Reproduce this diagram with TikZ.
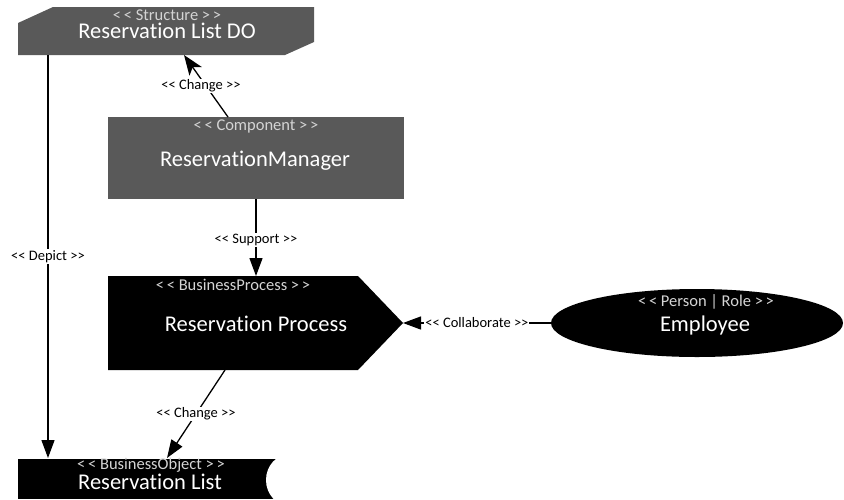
\documentclass[tikz,border=0pt]{standalone}
\usepackage{fontspec}
\setmainfont{Carlito}[Ligatures={NoCommon}]
\usetikzlibrary{arrows.meta,shapes.geometric,calc}
\definecolor{elemgray}{HTML}{595959}
\definecolor{stereo}{HTML}{D4D4D4}

\begin{document}
\begin{tikzpicture}[x=1pt,y=-1pt,
  conn/.style={line width=1.3pt},
  tri/.style={-{Triangle[length=18pt,width=13pt]}},
  lbl/.style={fill=white,inner sep=1pt,font=\fontsize{14.5}{16}\selectfont},
  stereotxt/.style={text=stereo,anchor=base,inner sep=0,font=\fontsize{16.5}{18}\selectfont},
  nametxt/.style={text=white,anchor=base,inner sep=0,font=\fontsize{22.5}{24}\selectfont}]
\useasboundingbox (0,0) rectangle (844,499);

% Structure element (cut corners)
\fill[elemgray] (18,23) -- (53,7) -- (314,7) -- (314,42) -- (285,55) -- (18,55) -- cycle;
\node[stereotxt] (structS) at (167,20.5) {<\,<{} Structure >\,>};
\node[nametxt] (structN) at (167,38) {Reservation List DO};
\coordinate (structChg) at (184,55);
\coordinate (structDep) at (48,55);

% Component
\node[fill=elemgray,minimum width=296pt,minimum height=82pt,inner sep=0,anchor=north west] (mgr) at (108,117) {};
\node[stereotxt] (mgrS) at (256,130.5) {<\,<{} Component >\,>};
\node[nametxt] (mgrN) at (255,166) {ReservationManager};
\coordinate (mgrChg) at (228,117);
\coordinate (mgrSup) at (256,199);

% Business process (arrow pentagon)
\fill[black] (108,276) -- (358,276) -- (403,323) -- (358,370) -- (108,370) -- cycle;
\node[stereotxt] (procS) at (233,290.5) {<\,<{} BusinessProcess >\,>};
\node[nametxt] (procN) at (256,331.5) {Reservation Process};
\coordinate (procTop) at (256,276);
\coordinate (procTip) at (403,323);
\coordinate (procBot) at (225,370);

% Person / role
\node[ellipse,fill=black,minimum width=292pt,minimum height=68pt,inner sep=0] (emp) at (697,323) {};
\node[stereotxt] (empS) at (706,306) {<\,<{} Person | Role >\,>};
\node[nametxt] (empN) at (705,331.5) {Employee};

% Business object
\fill[black] (18,459) rectangle (282,499);
\fill[white] (290,480) ellipse [x radius=24pt,y radius=26pt];
\node[stereotxt] (objS) at (151,469) {<\,<{} BusinessObject >\,>};
\node[nametxt] (objN) at (150,489) {Reservation List};
\coordinate (objDep) at (48,458);
\coordinate (objChg) at (167,458);

% Relations
\draw[conn,-{Stealth[length=20pt,width=15pt,inset=5pt]}] (mgrChg) -- node[lbl,xshift=-5pt] {<{}< Change >{}>} (structChg);
\draw[conn,tri] (mgrSup) -- node[lbl,pos=0.53] {<{}< Support >{}>} (procTop);
\draw[conn,tri] (emp.west) -- node[lbl] {<{}< Collaborate >{}>} (procTip);
\draw[conn,tri] (procBot) -- node[lbl] {<{}< Change >{}>} (objChg);
\draw[conn,tri] (structDep) -- node[lbl] {<{}< Depict >{}>} (objDep);
\end{tikzpicture}
\end{document}
